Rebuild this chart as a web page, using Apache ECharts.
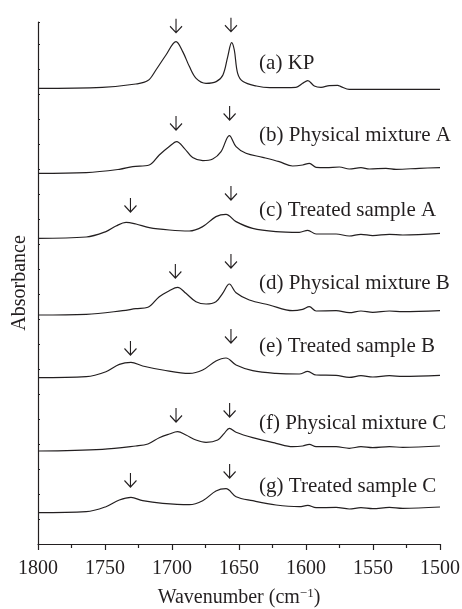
<!DOCTYPE html>
<html>
<head>
<meta charset="utf-8">
<script src="https://cdn.jsdelivr.net/npm/echarts@6/dist/echarts.min.js"></script>
<style>
  html, body { margin: 0; padding: 0; background: #fff; }
  #chart { width: 462px; height: 609px; }
</style>
</head>
<body>
<div id="chart"></div>
<script>
// spectra: [wavenumber, absorbance above own baseline]
const kp = [[1800, 0], [1752, 0.01], [1727, 0.043], [1718, 0.077], [1712, 0.183], [1704.5, 0.333], [1697, 0.467], [1692, 0.367], [1687, 0.217], [1682, 0.1], [1674.6, 0.05], [1667, 0.067], [1662, 0.133], [1658.4, 0.317], [1655.5, 0.457], [1653.5, 0.383], [1651, 0.15], [1647, 0.067], [1637, 0.023], [1627, 0.007], [1607.5, 0.01], [1602.5, 0.05], [1598.7, 0.077], [1593.8, 0.023], [1588.8, 0.01], [1582.6, 0.027], [1576.4, 0.03], [1573.9, 0.017], [1567.7, -0.01], [1552.7, -0.01], [1500, -0.01]]
const mixA = [[1800, 0], [1764, 0.007], [1739.3, 0.04], [1729.3, 0.067], [1717, 0.083], [1709.5, 0.183], [1702, 0.267], [1696.5, 0.317], [1690.8, 0.25], [1684.6, 0.157], [1677, 0.127], [1669.6, 0.143], [1663.4, 0.217], [1657.2, 0.377], [1652.2, 0.267], [1644.8, 0.2], [1632.3, 0.16], [1620, 0.117], [1610, 0.073], [1602.5, 0.083], [1597.5, 0.1], [1592.5, 0.06], [1585, 0.057], [1575.1, 0.063], [1567.7, 0.043], [1559, 0.057], [1552.7, 0.043], [1540.3, 0.05], [1532.8, 0.04], [1515.4, 0.05], [1500, 0.057]]
const treatA = [[1800, 0], [1764, 0.013], [1749.3, 0.067], [1741.8, 0.123], [1734.3, 0.16], [1726.9, 0.143], [1717, 0.107], [1702, 0.083], [1687.1, 0.073], [1677.1, 0.117], [1667.2, 0.217], [1659.7, 0.24], [1652.2, 0.167], [1639.8, 0.1], [1622.4, 0.067], [1605, 0.06], [1598.7, 0.08], [1592.5, 0.043], [1577.6, 0.043], [1567.7, 0.023], [1559, 0.04], [1550.2, 0.027], [1537.8, 0.04], [1527.8, 0.033], [1500, 0.05]]
const mixB = [[1800, 0], [1764, 0.007], [1736.8, 0.043], [1727, 0.063], [1718, 0.077], [1709.5, 0.183], [1702, 0.243], [1695.8, 0.277], [1689.6, 0.217], [1682.1, 0.133], [1674.6, 0.11], [1667.2, 0.133], [1662.2, 0.217], [1657.2, 0.31], [1652.2, 0.223], [1642.3, 0.15], [1627.4, 0.1], [1610, 0.043], [1602.5, 0.057], [1597.5, 0.083], [1592.5, 0.04], [1577.6, 0.043], [1567.7, 0.023], [1559, 0.04], [1550.2, 0.027], [1537.8, 0.04], [1527.8, 0.033], [1500, 0.043]]
const treatB = [[1800, 0], [1764, 0.01], [1749.3, 0.06], [1739.3, 0.133], [1730.6, 0.153], [1721.9, 0.117], [1706.9, 0.077], [1687.1, 0.043], [1677.1, 0.077], [1667.2, 0.167], [1659.7, 0.197], [1652.2, 0.127], [1639.8, 0.07], [1622.4, 0.043], [1605, 0.037], [1598.7, 0.063], [1592.5, 0.027], [1577.6, 0.023], [1567.7, 0.003], [1559, 0.02], [1550.2, 0.007], [1537.8, 0.02], [1527.8, 0.013], [1500, 0.023]]
const mixC = [[1800, 0], [1752, 0.017], [1727, 0.05], [1718, 0.07], [1709.5, 0.133], [1702, 0.17], [1695.8, 0.193], [1689.6, 0.16], [1682.1, 0.11], [1674.6, 0.087], [1665.9, 0.11], [1661, 0.177], [1657.2, 0.227], [1652.2, 0.187], [1639.8, 0.133], [1622.4, 0.077], [1610, 0.043], [1602.5, 0.05], [1597.5, 0.067], [1592.5, 0.043], [1577.6, 0.043], [1567.7, 0.027], [1559, 0.043], [1550.2, 0.033], [1537.8, 0.043], [1527.8, 0.037], [1500, 0.05]]
const treatC = [[1800, 0], [1764, 0.01], [1749.3, 0.06], [1739.3, 0.127], [1730.6, 0.153], [1721.9, 0.12], [1706.9, 0.093], [1687.1, 0.08], [1677.1, 0.12], [1667.2, 0.217], [1659.7, 0.24], [1652.2, 0.16], [1639.8, 0.12], [1622.4, 0.077], [1605, 0.06], [1598.7, 0.073], [1592.5, 0.05], [1577.6, 0.053], [1567.7, 0.037], [1559, 0.05], [1550.2, 0.04], [1537.8, 0.053], [1527.8, 0.043], [1500, 0.057]]

const names = ['(a) KP', '(b) Physical mixture A', '(c) Treated sample A', '(d) Physical mixture B', '(e) Treated sample B', '(f) Physical mixture C', '(g) Treated sample C']
const spectra = [kp, mixA, treatA, mixB, treatB, mixC, treatC]
const offsets = [4.557, 3.707, 3.057, 2.29, 1.663, 0.93, 0.313]
// arrow tips [wavenumber, height above baseline]
const arrows = [
  [[1697, 0.556], [1656, 0.566]],
  [[1697, 0.433], [1657, 0.533]],
  [[1731, 0.263], [1656, 0.383]],
  [[1697.5, 0.37], [1656, 0.47]],
  [[1731, 0.227], [1656, 0.347]],
  [[1697, 0.29], [1657, 0.34]],
  [[1731, 0.257], [1657, 0.347]]
]
const labelWn = 1635
const labelY = [0.253, 0.38, 0.28, 0.32, 0.31, 0.28, 0.26]

const font = 'Liberation Serif'
const ink = '#231f20'
const arrowPath = 'path://M6 0 L6 13 M0 7 L6 13 L12 7'

const chart = echarts.init(document.getElementById('chart'))

const series = spectra.map((s, i) => {
  const off = offsets[i]
  const marks = arrows[i].map(a => ({
    coord: [a[0], a[1] + off],
    symbol: arrowPath,
    symbolSize: [12, 14],
    symbolOffset: [0, '-50%'],
    itemStyle: { color: 'none', borderColor: ink, borderWidth: 1.2 },
    label: { show: false }
  }))
  marks.push({
    coord: [labelWn, labelY[i] + off],
    symbol: 'circle',
    symbolSize: 0,
    label: {
      show: true,
      position: 'right',
      distance: 0,
      formatter: names[i],
      color: ink,
      fontFamily: font,
      fontSize: 21
    }
  })
  return {
    name: names[i],
    type: 'line',
    data: s.map(p => [p[0], p[1] + off]),
    showSymbol: false,
    smooth: 0.35,
    lineStyle: { color: ink, width: 1.2 },
    silent: true,
    animation: false,
    markPoint: { silent: true, animation: false, data: marks }
  }
})

chart.setOption({
  animation: false,
  grid: { left: 38, right: 22, top: 22, bottom: 65, outerBoundsMode: 'none' },
  xAxis: {
    type: 'value',
    inverse: true,
    min: 1500,
    max: 1800,
    interval: 50,
    name: '{t|Wavenumber (cm}{s|−1}{t|)}',
    nameLocation: 'middle',
    nameGap: 43,
    nameTextStyle: {
      rich: {
        t: { fontFamily: font, fontSize: 20, color: ink },
        s: { fontFamily: font, fontSize: 13, color: ink, padding: [0, 0, 9, 0] }
      }
    },
    axisLine: { lineStyle: { color: ink, width: 1.2 } },
    axisTick: { inside: false, length: 6, lineStyle: { color: ink, width: 1.2 } },
    minorTick: { show: true, splitNumber: 2, length: 4, lineStyle: { color: ink, width: 1.2 } },
    axisLabel: { color: ink, fontFamily: font, fontSize: 20, margin: 15, formatter: v => String(v) },
    splitLine: { show: false }
  },
  yAxis: {
    type: 'value',
    min: 0,
    max: 5.22,
    interval: 0.25,
    name: 'Absorbance',
    nameLocation: 'middle',
    nameGap: 8,
    nameTextStyle: { color: ink, fontFamily: font, fontSize: 20 },
    axisLine: { show: true, lineStyle: { color: ink, width: 1.2 } },
    axisTick: { show: true, inside: true, length: 2, lineStyle: { color: ink, width: 1 } },
    axisLabel: { show: false },
    splitLine: { show: false }
  },
  series: series
})
</script>
</body>
</html>
